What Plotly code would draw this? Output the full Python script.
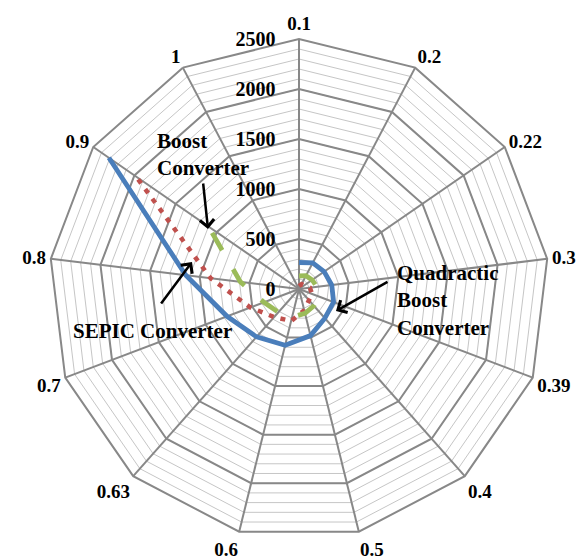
import plotly.graph_objects as go

# ---- data ----
categories = ["0.1", "0.2", "0.22", "0.3", "0.39", "0.4", "0.5", "0.6", "0.63", "0.7", "0.8", "0.9", "1"]
quadratic_blue = [265, 295, 305, 330, 370, 390, 480, 580, 640, 770, 1140, 2310, None]
sepic_red = [30, 55, 65, 110, 140, 150, 220, 330, 375, 520, 890, 1980, None]
boost_green = [130, 150, 160, 180, 210, 225, 250, 290, 310, 375, 590, 1100, None]
radial_major = [0, 500, 1000, 1500, 2000, 2500]
radial_max = 2500

W, H = 584, 560
cx, cy, R = 299, 289, 250

def px(x):
    return x / W

def py(y):
    return 1 - y / H

dom_x = [px(cx - R), px(cx + R)]
dom_y = [py(cy + R), py(cy - R)]

FONT = "Liberation Serif"
GRID_DARK = "#888888"
GRID_LIGHT = "#c6c6c6"

fig = go.Figure()

# invisible traces to register categories on both polar subplots
for sp in ("polar", "polar2"):
    fig.add_trace(go.Scatterpolar(r=[0] * len(categories), theta=categories, mode="lines",
                                  line=dict(width=0, color="rgba(0,0,0,0)"), hoverinfo="skip",
                                  showlegend=False, subplot=sp))

fig.add_trace(go.Scatterpolar(r=quadratic_blue, theta=categories, mode="lines",
                              name="Quadractic Boost Converter",
                              line=dict(color="#4a7ebb", width=4.8), subplot="polar2",
                              connectgaps=False))
fig.add_trace(go.Scatterpolar(r=sepic_red, theta=categories, mode="lines",
                              name="SEPIC Converter",
                              line=dict(color="#c0504d", width=4.5, dash="5px,7px"), subplot="polar2"))
fig.add_trace(go.Scatterpolar(r=boost_green, theta=categories, mode="lines",
                              name="Boost Converter",
                              line=dict(color="#9bbb59", width=4.8, dash="20px,22px"), subplot="polar2"))

radfont = dict(family=FONT, size=20, color="black", weight="bold")
angfont = dict(family=FONT, size=19, color="black", weight="bold")
pad = "\u00a0" * 4

fig.update_layout(
    width=W, height=H,
    margin=dict(l=0, r=0, t=0, b=0),
    paper_bgcolor="white",
    showlegend=False,
    polar=dict(
        domain=dict(x=dom_x, y=dom_y),
        bgcolor="white",
        gridshape="linear",
        radialaxis=dict(range=[0, radial_max], dtick=100, showticklabels=False, ticks="",
                        showline=False, gridcolor=GRID_LIGHT, gridwidth=1),
        angularaxis=dict(type="category", categoryorder="array", categoryarray=categories,
                         direction="clockwise", rotation=90, showticklabels=False, ticks="",
                         showgrid=False, showline=False),
    ),
    polar2=dict(
        domain=dict(x=dom_x, y=dom_y),
        bgcolor="rgba(0,0,0,0)",
        gridshape="linear",
        radialaxis=dict(range=[0, radial_max], tickvals=radial_major,
                        ticktext=[str(v) + pad for v in radial_major],
                        showticklabels=True, ticks="", showline=False,
                        gridcolor=GRID_DARK, gridwidth=2, angle=90, tickangle=90,
                        side="counterclockwise", tickfont=radfont),
        angularaxis=dict(type="category", categoryorder="array", categoryarray=categories,
                         direction="clockwise", rotation=90, showticklabels=True, ticks="",
                         showgrid=True, gridcolor=GRID_DARK, gridwidth=1.5,
                         showline=True, linecolor=GRID_DARK, linewidth=2,
                         tickfont=angfont),
    ),
)

afont = dict(family=FONT, size=21, color="black", weight="bold")

# arrows (tip, tail) in pixel coordinates of the figure
arrows = [((208, 229), (203, 182)), ((192, 262), (160, 305)), ((336, 311), (389, 281))]
for (tx, ty), (sx, sy) in arrows:
    fig.add_annotation(x=px(tx), y=py(ty), xref="paper", yref="paper", text="",
                       showarrow=True, ax=sx - tx, ay=sy - ty, arrowhead=4, arrowsize=1.1,
                       arrowwidth=2.5, arrowcolor="black", standoff=0, startstandoff=0)

labels = [("Boost<br>Converter", 155, 154), ("SEPIC Converter", 71, 331),
          ("Quadractic<br>Boost<br>Converter", 395, 300)]
for text, x, y in labels:
    fig.add_annotation(x=px(x), y=py(y), xref="paper", yref="paper", text=text,
                       showarrow=False, xanchor="left", yanchor="middle", align="left",
                       font=afont)

fig.write_html("out.html", config={"displayModeBar": False},
               post_script="document.body.style.margin='0px';")
